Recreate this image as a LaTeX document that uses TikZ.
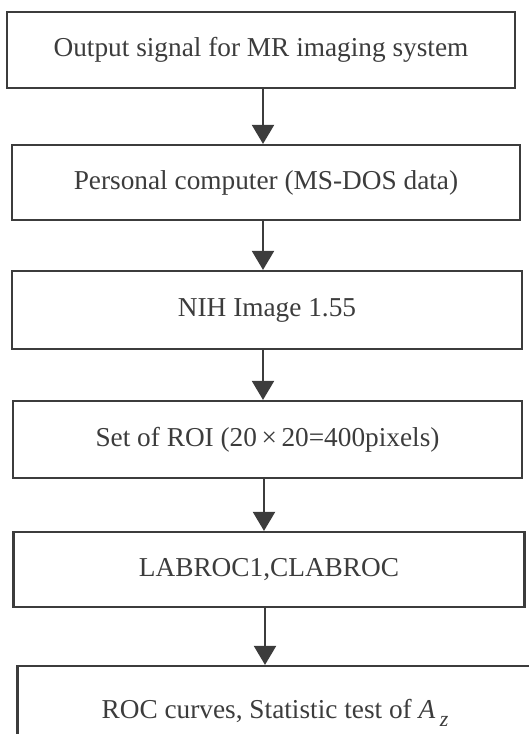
\documentclass[tikz,border=0pt]{standalone}
\usepackage{fontspec}
\setmainfont{Liberation Serif}
\usetikzlibrary{arrows.meta}
\definecolor{ink}{HTML}{3C3C3C}
\tikzset{
  stepbox/.style={draw=ink, line width=2.2pt, rectangle, inner sep=0pt,
    text=ink, font=\fontsize{27.3}{30}\selectfont},
  flow/.style={draw=ink, line width=2.2pt,
    -{Triangle[length=19pt,width=22pt]}}
}
\begin{document}
\begin{tikzpicture}[x=1pt,y=-1pt]
  \useasboundingbox (0,0) rectangle (529,734);
  \clip (0,0) rectangle (529,734);
  \node[stepbox, minimum width=508pt, minimum height=76pt] (a) at (261,50)
    {Output signal for MR imaging system};
  \node[stepbox, minimum width=508pt, minimum height=75pt] (b) at (266,182.5)
    {Personal computer (MS-DOS data)};
  \node[stepbox, minimum width=510pt, minimum height=78pt] (c) at (267,310)
    {NIH Image 1.55};
  \node[stepbox, minimum width=509pt, minimum height=77pt] (d) at (267.5,439.5)
    {Set of ROI (20\,×\,20=400pixels)};
  \node[stepbox, minimum width=511pt, minimum height=75pt] (e) at (269,569.5)
    {LABROC1,CLABROC};
  \node[stepbox, minimum width=515pt, minimum height=94pt, yshift=0pt] (f) at (275,713)
    {ROC curves, Statistic test of {\itshape A}\,\raisebox{-0.28em}{\fontsize{22}{22}\selectfont\itshape z}};
  \draw[flow] (a.south -| 263,0) -- (b.north -| 263,0);
  \draw[flow] (b.south -| 263,0) -- (c.north -| 263,0);
  \draw[flow] (c.south -| 263,0) -- (d.north -| 263,0);
  \draw[flow] (d.south -| 264,0) -- (e.north -| 264,0);
  \draw[flow] (e.south -| 265,0) -- (f.north -| 265,0);
\end{tikzpicture}
\end{document}
